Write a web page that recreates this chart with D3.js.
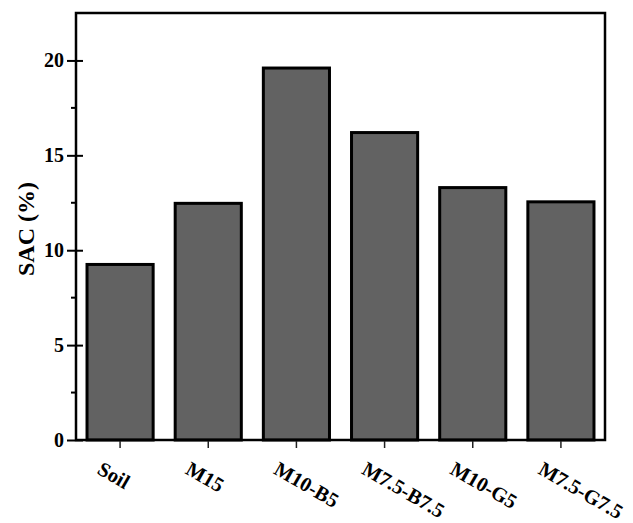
<!DOCTYPE html>
<html>
<head>
<meta charset="utf-8">
<script src="https://cdn.jsdelivr.net/npm/d3@7"></script>
<style>
  body { margin: 0; background: #fff; }
  svg text { font-family: "Liberation Serif", "Times New Roman", serif; font-weight: bold; fill: #000; }
</style>
</head>
<body>
<svg id="chart" width="633" height="523"></svg>
<script>
// data
var categories = [ "Soil", "M15", "M10-B5", "M7.5-B7.5", "M10-G5", "M7.5-G7.5" ];
var sacValues = [ 9.25, 12.47, 19.6, 16.2, 13.3, 12.55 ];
var yTicks = [ 0, 5, 10, 15, 20 ];
var yMinorTicks = [ 2.5, 7.5, 12.5, 17.5 ];

var MARGIN = { left: 76, top: 13, right: 28, bottom: 83 };
var width = 633, height = 523;

var svg = d3.select( "#chart" );

var x = d3.scaleBand()
  .domain( categories )
  .range( [ MARGIN.left, width - MARGIN.right ] )
  .paddingInner( 0.25 )
  .paddingOuter( 0.125 );

var y = d3.scaleLinear()
  .domain( [ 0, 22.5 ] )
  .range( [ height - MARGIN.bottom, MARGIN.top ] );

// bars
svg.append( "g" )
  .selectAll( "rect" )
  .data( sacValues )
  .enter()
  .append( "rect" )
  .attr( "x", function( d, i ){ return x( categories[ i ] ); } )
  .attr( "y", function( d ){ return y( d ); } )
  .attr( "width", x.bandwidth() )
  .attr( "height", function( d ){ return y( 0 ) - y( d ); } )
  .style( "fill", "#626262" )
  .style( "stroke", "#000" )
  .style( "stroke-width", "3px" );

// frame
svg.append( "rect" )
  .attr( "x", MARGIN.left )
  .attr( "y", MARGIN.top )
  .attr( "width", width - MARGIN.left - MARGIN.right )
  .attr( "height", height - MARGIN.top - MARGIN.bottom )
  .style( "fill", "none" )
  .style( "stroke", "#000" )
  .style( "stroke-width", "2.5px" );

// y axis
var yAxis = svg.append( "g" )
  .attr( "transform", "translate(" + MARGIN.left + ",0)" )
  .call( d3.axisLeft( y ).tickValues( yTicks ).tickSize( 9 ).tickPadding( 3 ).tickFormat( d3.format( "d" ) ) );

yAxis.select( ".domain" ).remove();
yAxis.selectAll( ".tick line" )
  .attr( "x2", 7 )
  .attr( "x1", -9 )
  .style( "stroke-width", "2px" );
yAxis.selectAll( ".tick text" )
  .style( "font-size", "20px" )
  .style( "font-family", "Liberation Serif" );

svg.append( "g" )
  .selectAll( "line" )
  .data( yMinorTicks )
  .enter()
  .append( "line" )
  .attr( "x1", MARGIN.left - 5 )
  .attr( "x2", MARGIN.left )
  .attr( "y1", function( d ){ return y( d ); } )
  .attr( "y2", function( d ){ return y( d ); } )
  .style( "stroke", "#000" )
  .style( "stroke-width", "2px" );

// x ticks and rotated labels
var xTick = svg.append( "g" )
  .selectAll( "g" )
  .data( categories )
  .enter()
  .append( "g" )
  .attr( "transform", function( d ){ return "translate(" + ( x( d ) + x.bandwidth() / 2 ) + "," + y( 0 ) + ")"; } );

xTick.append( "line" )
  .attr( "y1", 1 )
  .attr( "y2", 8 )
  .style( "stroke", "#222" )
  .style( "stroke-width", "1.5px" );

xTick.append( "text" )
  .attr( "transform", "translate(-24,33) rotate(30)" )
  .attr( "text-anchor", "start" )
  .style( "font-size", "20.5px" )
  .text( function( d ){ return d; } );

// y title
svg.append( "text" )
  .attr( "transform", "translate(34,229) rotate(-90)" )
  .attr( "text-anchor", "middle" )
  .style( "font-size", "24px" )
  .text( "SAC (%)" );
</script>
</body>
</html>
